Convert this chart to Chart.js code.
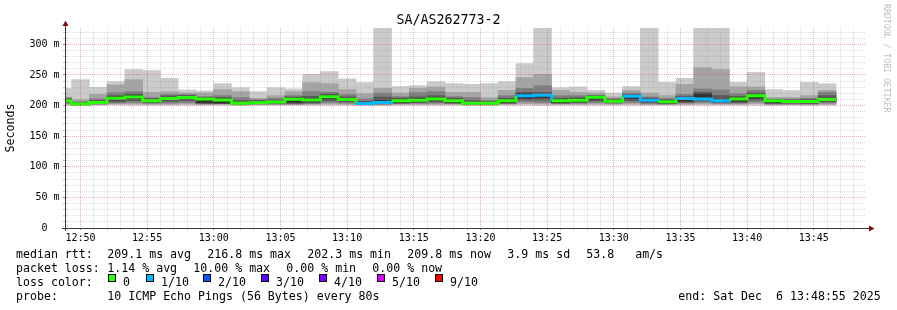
<!DOCTYPE html>
<html>
<head>
<meta charset="utf-8">
<title>SA/AS262773-2</title>
<script src="https://cdn.jsdelivr.net/npm/chart.js@4.4.1/dist/chart.umd.min.js"></script>
<style>
  html, body { margin: 0; padding: 0; background: #ffffff; }
  #wrap { position: relative; width: 897px; height: 310px; overflow: hidden; background: #fff;
          font-family: 'DejaVu Sans Mono', monospace; color: #000; }
  #c { position: absolute; left: 0; top: 0; }
  .t { position: absolute; white-space: pre; font-size: 11.6px; line-height: 14px; }
  .box { position: absolute; top: 274px; width: 8px; height: 8px; box-sizing: border-box; border: 1px solid #000; }
  #title { position: absolute; left: 0; top: 11.5px; width: 897px; text-align: center; font-size: 13.3px; line-height: 16px; white-space: pre; }
  #wm { position: absolute; left: 882px; top: 4px; writing-mode: vertical-rl; font-size: 8.2px; line-height: 10px; color: #c0c0c0; white-space: pre; }
</style>
</head>
<body>
<div id="wrap">
  <canvas id="c" width="897" height="310"></canvas>
  <div id="title">SA/AS262773-2</div>
  <div id="wm">RRDTOOL / TOBI OETIKER</div>

  <div class="t" style="left:16px;top:247px">median rtt:</div>
  <div class="t" style="left:107.3px;top:247px">209.1 ms avg</div>
  <div class="t" style="left:207.3px;top:247px">216.8 ms max</div>
  <div class="t" style="left:307.3px;top:247px">202.3 ms min</div>
  <div class="t" style="left:407.3px;top:247px">209.8 ms now</div>
  <div class="t" style="left:507.3px;top:247px">3.9 ms sd</div>
  <div class="t" style="left:586.3px;top:247px">53.8   am/s</div>

  <div class="t" style="left:16px;top:261px">packet loss:</div>
  <div class="t" style="left:107.3px;top:261px">1.14 % avg</div>
  <div class="t" style="left:193.3px;top:261px">10.00 % max</div>
  <div class="t" style="left:286.3px;top:261px">0.00 % min</div>
  <div class="t" style="left:372.3px;top:261px">0.00 % now</div>

  <div class="t" style="left:16px;top:275px">loss color:</div>
  <div class="box" style="left:108px;background:#26ff00"></div>
  <div class="t" style="left:123px;top:275px">0</div>
  <div class="box" style="left:146px;background:#00b8ff"></div>
  <div class="t" style="left:161px;top:275px">1/10</div>
  <div class="box" style="left:203px;background:#0059ff"></div>
  <div class="t" style="left:218px;top:275px">2/10</div>
  <div class="box" style="left:261px;background:#5e00ff"></div>
  <div class="t" style="left:276px;top:275px">3/10</div>
  <div class="box" style="left:319px;background:#7e00ff"></div>
  <div class="t" style="left:334px;top:275px">4/10</div>
  <div class="box" style="left:377px;background:#dd00ff"></div>
  <div class="t" style="left:392px;top:275px">5/10</div>
  <div class="box" style="left:435px;background:#ff0000"></div>
  <div class="t" style="left:450px;top:275px">9/10</div>

  <div class="t" style="left:16px;top:289px">probe:</div>
  <div class="t" style="left:107.3px;top:289px">10 ICMP Echo Pings (56 Bytes) every 80s</div>
  <div class="t" style="left:678.3px;top:289px">end: Sat Dec  6 13:48:55 2025</div>
</div>

<script>
// ---------------- data ----------------
// start time of each 80 s interval
const times = ['12:48:00','12:49:20','12:50:40','12:52:00','12:53:20','12:54:40','12:56:00','12:57:20','12:58:40','13:00:00',
               '13:01:20','13:02:40','13:04:00','13:05:20','13:06:40','13:08:00','13:09:20','13:10:40','13:12:00','13:13:20',
               '13:14:40','13:16:00','13:17:20','13:18:40','13:20:00','13:21:20','13:22:40','13:24:00','13:25:20','13:26:40',
               '13:28:00','13:29:20','13:30:40','13:32:00','13:33:20','13:34:40','13:36:00','13:37:20','13:38:40','13:40:00',
               '13:41:20','13:42:40','13:44:00','13:45:20'];
const intervalSeconds = 80;
const startTime = '12:48:55';
const endTime = '13:48:55';

// sorted ping round trip times (ms) per interval: rtt1 = fastest ... rtt10 = slowest
const rtt1 = [200.5,200,200.5,201,200.5,200.5,200.5,200.5,200.5,200.5, 200,200.5,200.5,200.5,200.5,200.5,200.5,200,200,200.5,
              200.5,200.5,200.5,200,200,200.5,200.5,200,200.5,200.5, 200.5,200.5,200.5,200,200.5,200.5,200.5,200.5,200.5,200.5,
              200,200.5,200,200.5];
const rtt2 = [202,200.8,201.5,202.5,202.5,202,202,202.5,201.8,202, 201,201.5,201.5,201.5,202,202.5,202,201,201,202,
              202,202,202,201,201,202,203,202.5,202,202, 202.5,202,202.5,201.5,201.5,202,202.5,202,202,203,
              201.5,201.5,201.5,202];
const rtt3 = [203.5,201.2,202.5,204,205,203.5,204,205,202.8,203, 202,202.5,202.5,202.5,203,205,204,201.5,202,203,
              203.5,204,203,202,202,203,206,205,203,203.5, 205,203.5,205,203,202.5,204,205,203.5,203.5,206,
              202.5,202.5,202.5,204];
const rtt4 = [205,201.6,203.5,206,208,205,207,208,203.5,203.5, 202.5,203,203.5,203.5,204.5,208,206,202.5,203,204,
              205,206,204,202.5,202.5,204,209,209,204,205, 207.5,205,208,205,203.5,205.5,207.5,205,205,209,
              203.5,204,203.5,206];
const rtt5 = [206.5,202,204,209,211,206.5,209.5,211,204.5,204, 203,203.5,204.5,205,206,211,208,203,204,205,
              207,208.5,205,203,203,205,212,213,205,206.5, 209.5,206,211,207,204,207,209.5,206.5,207,212,
              204.5,205.5,204.5,208];
const rtt6 = [209,203,206,214,216,209.5,213,214.5,212,211, 205,206,207,212,211,216.5,211.5,204.5,208,209.5,
              210.5,212.5,209.5,205,205,209.5,219.5,218,209.5,210.5, 215,209,216.5,210.5,208,213.5,219,209.5,212.5,217.5,
              209,208,208.5,211.5];
const rtt7 = [211,204.5,208,216,219,211,215.5,216.5,213.5,213, 208,208,209,214,215,219,214,207,214,212,
              214,216,212,208,206.5,212,221.6,221.6,212,213, 216,210,218,212,210,214.5,221.5,216.2,215,220.6,
              210,209.5,210,216.2];
const rtt8 = [212,206,210.8,221.1,222.7,213,218.3,217.8,214.5,216.2, 213,209.6,211.8,216.2,222.7,221.6,217.8,210.8,220.6,214.5,
              221,222.7,214.5,213,208.5,216.2,228.1,232.5,216.2,216.2, 217,211.3,220.6,214.1,211.3,218.3,227.1,225.5,219.4,224.8,
              210.8,210.5,211.8,221.6];
const rtt9 = [214,209.6,218.3,233.7,242.3,221.6,222.7,220.6,220.6,226, 222.7,211.8,216.2,222.7,237.4,235.8,226,219.4,228.1,220.6,
              228.1,230.4,221.6,221.6,212.9,224.8,245.6,251,224.8,221.6, 220.6,214.1,224.8,220.6,216.2,234.6,261.9,258.7,230.4,230.4,
              212.9,212.9,216.2,224.8];
const rtt10 = [228,242.3,229.7,239,258.7,257,244.4,225.5,223.9,235.8, 229.2,222.7,229.2,227.1,251,255.4,243.5,237.4,326.6,230.9,
               232.5,239,235.8,234.6,235.8,239,268.5,326.6,229.2,230.4, 224.8,220.6,230.9,326.6,237.9,244.4,326.6,326.6,237.9,254.2,
               226,224.3,237.9,235.6];
const median = [207.7,202.3,204.8,211.9,213.9,207.6,211.4,213.0,210.8,209.2, 203.9,204.4,205.6,210.3,209.2,214.5,209.9,203.5,205.1,207.6,
                208.7,210.8,207.6,203.9,203.9,207.6,216.1,216.8,207.6,208.7, 213.4,207.1,215.0,208.7,206.1,211.4,210.8,207.6,210.8,215.9,
                207.6,206.6,206.6,209.8];
// lost pings out of 10 per interval
const loss = [0,0,0,0,0,0,0,0,0,0, 0,0,0,0,0,0,0,1,1,0, 0,0,0,0,0,0,1,1,0,0, 0,0,1,1,0,1,1,1,0,0, 0,0,0,0];

// axis ticks
const xTickLabels = ['12:50','12:55','13:00','13:05','13:10','13:15','13:20','13:25','13:30','13:35','13:40','13:45'];
const yTickValues = [0,50,100,150,200,250,300];
const yTickLabels = ['0  ','50 m','100 m','150 m','200 m','250 m','300 m'];
const yMax = 326.6;

// ---------------- styling ----------------
const lossColors = {0:'#26ff00',1:'#00b8ff',2:'#0059ff',3:'#5e00ff',4:'#7e00ff',5:'#dd00ff'};
const lossColor = n => lossColors[n] || '#ff0000';
const smokeColors = ['#cacaca','#a4a4a4','#7e7e7e','#585858','#323232'];
const GRID = 'rgba(150,150,150,0.32)';
const MGRID = 'rgba(235,60,60,0.42)';
const AXIS = '#3a3a3a';
const ARROW = '#7f1010';

// ---------------- helpers ----------------
const toMin = s => { const p = s.split(':').map(Number); return (p[0] - 12) * 60 + p[1] + (p[2] || 0) / 60; };
const xMin = toMin(startTime), xMax = toMin(endTime);
const stepMin = intervalSeconds / 60;
const starts = times.map(toMin);
const centers = starts.map(s => s + stepMin / 2);
const xLabelValues = xTickLabels.map(toMin);

const rtts = [rtt1, rtt2, rtt3, rtt4, rtt5, rtt6, rtt7, rtt8, rtt9, rtt10];
const bandDatasets = [];
for (let b = 0; b < 5; b++) {
  const lo = rtts[b], hi = rtts[9 - b];
  bandDatasets.push({
    type: 'bar', xAxisID: 'x2', yAxisID: 'y',
    data: centers.map((c, i) => ({ x: c, y: [lo[i], hi[i]] })),
    backgroundColor: smokeColors[b], borderWidth: 0,
    barPercentage: 1, categoryPercentage: 1, grouped: false,
    clip: 0, order: 5 - b
  });
}
const medianPoints = starts.map((s, i) => ({ x: s, y: median[i] }));
medianPoints.push({ x: starts[starts.length - 1] + stepMin, y: median[median.length - 1] });
const medianDataset = {
  type: 'line', xAxisID: 'x2', yAxisID: 'y',
  data: medianPoints, stepped: 'before', borderWidth: 3, pointRadius: 0, fill: false,
  borderColor: lossColor(0), borderCapStyle: 'butt', borderJoinStyle: 'miter',
  segment: { borderColor: c => lossColor(loss[Math.min(c.p0DataIndex, loss.length - 1)]) },
  clip: 0, order: 0
};

const rrdAxes = {
  id: 'rrdAxes',
  afterDraw(chart) {
    const ctx = chart.ctx, a = chart.chartArea;
    ctx.save();
    ctx.strokeStyle = AXIS; ctx.lineWidth = 1; ctx.setLineDash([]);
    ctx.beginPath();
    ctx.moveTo(a.left - 4, a.bottom + 0.5); ctx.lineTo(a.right + 3, a.bottom + 0.5);
    ctx.moveTo(a.left - 0.5, a.bottom + 3); ctx.lineTo(a.left - 0.5, a.top - 3);
    ctx.stroke();
    ctx.fillStyle = ARROW;
    ctx.beginPath();
    ctx.moveTo(a.left - 0.5, a.top - 7.5); ctx.lineTo(a.left + 2.5, a.top - 2); ctx.lineTo(a.left - 3.5, a.top - 2);
    ctx.closePath(); ctx.fill();
    ctx.beginPath();
    ctx.moveTo(a.right + 8.5, a.bottom + 0.5); ctx.lineTo(a.right + 3, a.bottom - 2.5); ctx.lineTo(a.right + 3, a.bottom + 3.5);
    ctx.closePath(); ctx.fill();
    ctx.restore();
  }
};

Chart.defaults.font.family = "'DejaVu Sans Mono', monospace";
Chart.defaults.color = '#000';

const isXMajor = v => xLabelValues.some(m => Math.abs(m - v) < 1e-6);
const isYMajor = v => yTickValues.indexOf(v) >= 0;

new Chart(document.getElementById('c'), {
  type: 'bar',
  data: { datasets: [medianDataset].concat(bandDatasets) },
  options: {
    responsive: false, animation: false, devicePixelRatio: 1,
    layout: { padding: { top: 28, right: 31, left: 0, bottom: 0 } },
    plugins: { legend: { display: false }, tooltip: { enabled: false }, title: { display: false } },
    scales: {
      x2: {
        type: 'linear', display: false, min: xMin, max: xMax, offset: false,
        grid: { offset: false },
        afterBuildTicks: s => { s.ticks = [{ value: xMin }]; }
      },
      x: {
        type: 'linear', position: 'bottom', min: xMin, max: xMax, offset: false,
        afterBuildTicks: s => {
          const t = [];
          for (let m = Math.ceil(xMin); m <= Math.floor(xMax); m++) t.push({ value: m });
          s.ticks = t;
        },
        afterFit: s => { s.height = 82; },
        grid: {
          offset: false, z: 1, drawTicks: true, tickLength: 2,
          color: c => (c.tick && isXMajor(c.tick.value)) ? MGRID : GRID,
          tickColor: c => (c.tick && isXMajor(c.tick.value)) ? 'rgba(210,50,50,0.7)' : 'rgba(140,140,140,0.5)'
        },
        border: { display: false, dash: [1, 1] },
        ticks: {
          autoSkip: false, maxRotation: 0, minRotation: 0, padding: 2,
          font: { size: 10 }, color: '#000',
          callback: v => { const i = xLabelValues.findIndex(m => Math.abs(m - v) < 1e-6); return i >= 0 ? xTickLabels[i] : ''; }
        }
      },
      y: {
        type: 'linear', min: 0, max: yMax,
        afterBuildTicks: s => {
          const t = [];
          for (let v = 0; v <= yMax; v += 10) t.push({ value: v });
          s.ticks = t;
        },
        afterFit: s => { s.width = 66; },
        grid: {
          z: 1, drawTicks: true, tickLength: 3,
          color: c => (c.tick && isYMajor(c.tick.value)) ? MGRID : GRID,
          tickColor: c => (c.tick && isYMajor(c.tick.value)) ? 'rgba(210,50,50,0.7)' : 'rgba(140,140,140,0.5)'
        },
        border: { display: false, dash: [1, 1] },
        title: { display: true, text: 'Seconds', font: { size: 11.6 }, color: '#000', padding: { top: 4, bottom: 0 } },
        ticks: {
          autoSkip: false, padding: 3.5, font: { size: 10 }, color: '#000',
          callback: v => { const i = yTickValues.indexOf(v); return i >= 0 ? yTickLabels[i] : ''; }
        }
      }
    }
  },
  plugins: [rrdAxes]
});
</script>
</body>
</html>
